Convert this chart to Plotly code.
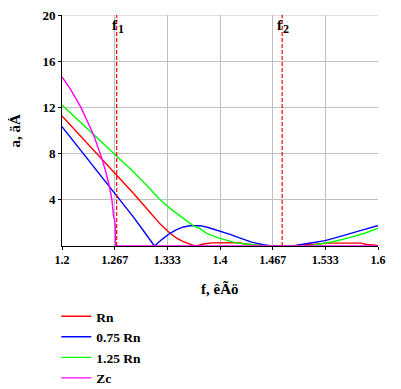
import plotly.graph_objects as go

# ---- data ----
f_rn = [1.2, 1.225, 1.25, 1.2686, 1.29, 1.3115, 1.325, 1.3368, 1.345, 1.3536, 1.36, 1.366,
        1.3706, 1.379, 1.39, 1.413, 1.423, 1.43, 1.438, 1.445, 1.4527, 1.46, 1.49, 1.5,
        1.52, 1.535, 1.579, 1.585, 1.595, 1.6]
a_rn = [11.25, 9.4, 7.55, 6.1, 4.59, 2.9, 1.85, 1.1, 0.68, 0.37, 0.18, 0.06,
        0.0, 0.17, 0.27, 0.29, 0.28, 0.2, 0.18, 0.1, 0.07, 0.0, 0.0, 0.1,
        0.15, 0.25, 0.25, 0.13, 0.1, 0.03]

f_rn075 = [1.2, 1.225, 1.25, 1.2686, 1.29, 1.305, 1.317, 1.327, 1.3368, 1.345, 1.3536, 1.362,
           1.375, 1.385, 1.396, 1.4063, 1.4127, 1.423, 1.432, 1.44, 1.4547, 1.4653, 1.4948,
           1.501, 1.517, 1.533, 1.548, 1.5643, 1.582, 1.598, 1.6]
a_rn075 = [10.33, 8.18, 6.03, 4.4, 2.55, 1.15, 0.0, 0.6, 1.1, 1.42, 1.65, 1.75,
           1.76, 1.6, 1.38, 1.12, 1.0, 0.74, 0.52, 0.33, 0.12, 0.0, 0.0,
           0.12, 0.28, 0.46, 0.75, 1.1, 1.42, 1.73, 1.76]

f_rn125 = [1.2, 1.225, 1.2442, 1.2686, 1.29, 1.31, 1.3242, 1.3368, 1.3536, 1.3663, 1.3747,
           1.3832, 1.3958, 1.4063, 1.4127, 1.419, 1.4316, 1.4484, 1.455, 1.512, 1.522,
           1.543, 1.564, 1.585, 1.6]
a_rn125 = [12.2, 10.6, 9.35, 7.85, 6.45, 5.05, 4.0, 3.26, 2.39, 1.75, 1.5,
           1.1, 0.75, 0.52, 0.4, 0.29, 0.17, 0.08, 0.0, 0.0, 0.11,
           0.37, 0.72, 1.15, 1.53]

f_zc = [1.2, 1.2105, 1.224, 1.2316, 1.24, 1.2484, 1.2547, 1.2601, 1.2632, 1.2652, 1.2672,
        1.2678, 1.6]
a_zc = [14.64, 13.6, 12.0, 10.9, 9.61, 8.0, 6.6, 5.15, 4.0, 2.6, 2.0,
        0.0, 0.0]

F1 = 1.2692
F2 = 1.4787

x_ticks = [1.2, 1.2667, 1.3333, 1.4, 1.4667, 1.5333, 1.6]
x_labels = ["1.2", "1.267", "1.333", "1.4", "1.467", "1.533", "1.6"]
y_ticks = [4, 8, 12, 16, 20]
y_labels = ["4", "8", "12", "16", "20"]

series = [
    ("Rn", f_rn, a_rn, "#ff0000"),
    ("0.75 Rn", f_rn075, a_rn075, "#0000ff"),
    ("1.25 Rn", f_rn125, a_rn125, "#00ff00"),
    ("Zc", f_zc, a_zc, "#ff00ff"),
]

SERIF = "Liberation Serif, Times New Roman, serif"

fig = go.Figure()
for name, fx, ay, col in series:
    fig.add_trace(go.Scatter(x=fx, y=ay, mode="lines", name=name,
                             line=dict(color=col, width=1.4)))

# top frame line (grid colour)
fig.add_shape(type="line", xref="paper", yref="y", x0=0, x1=1, y0=20, y1=20,
              line=dict(color="#c0c0c0", width=1), layer="below")

for fv in (F1, F2):
    fig.add_shape(type="line", xref="x", yref="y", x0=fv, x1=fv, y0=0, y1=20,
                  line=dict(color="#ff0000", width=1.2, dash="4px,2px"), layer="above")

for fv, sub in ((F1, "1"), (F2, "2")):
    fig.add_annotation(x=fv, y=1, xref="x", yref="paper", yanchor="top", xanchor="center",
                       text="f", showarrow=False, xshift=-2, yshift=0,
                       font=dict(family=SERIF, size=15, color="black", weight="bold"))
    fig.add_annotation(x=fv, y=1, xref="x", yref="paper", yanchor="top", xanchor="center",
                       text=sub, showarrow=False, xshift=4, yshift=-5,
                       font=dict(family=SERIF, size=12, color="black", weight="bold"))

# axis titles
fig.add_annotation(x=0.5, y=0, xref="paper", yref="paper", yanchor="middle",
                   text="f, êÃö", showarrow=False, yshift=-42,
                   font=dict(family=SERIF, size=15, color="black", weight="bold"))
fig.add_annotation(x=0, y=0.5, xref="paper", yref="paper", xanchor="center",
                   text="a, äÁ", showarrow=False, xshift=-48, textangle=-90,
                   font=dict(family=SERIF, size=15, color="black", weight="bold"))

# the page body adds an 8px offset, so the figure is sized 8px smaller
fig.update_layout(
    width=393, height=381,
    margin=dict(l=54, r=23, t=7, b=143, autoexpand=False),
    paper_bgcolor="white", plot_bgcolor="white",
    showlegend=True,
    legend=dict(x=-0.018, xanchor="left", y=-0.238, yanchor="top",
                font=dict(family=SERIF, size=13.5, color="black", weight="bold"),
                bgcolor="rgba(0,0,0,0)", borderwidth=0, tracegroupgap=0),
    xaxis=dict(range=[1.2, 1.6], tickvals=x_ticks, ticktext=x_labels,
               showgrid=True, gridcolor="#c0c0c0", gridwidth=1,
               showline=True, linecolor="black", linewidth=1,
               ticks="outside", ticklen=3, tickcolor="black",
               ticklabeloverflow="allow",
               tickfont=dict(family=SERIF, size=12, color="black", weight="bold"),
               zeroline=False, layer="below traces", fixedrange=True),
    yaxis=dict(range=[0, 20], tickvals=y_ticks, ticktext=y_labels,
               showgrid=True, gridcolor="#c0c0c0", gridwidth=1,
               showline=True, linecolor="black", linewidth=1,
               ticks="outside", ticklen=3, tickcolor="black",
               ticklabeloverflow="allow",
               tickfont=dict(family=SERIF, size=13, color="black", weight="bold"),
               zeroline=False, layer="below traces", fixedrange=True),
)

fig.write_html("out.html")
